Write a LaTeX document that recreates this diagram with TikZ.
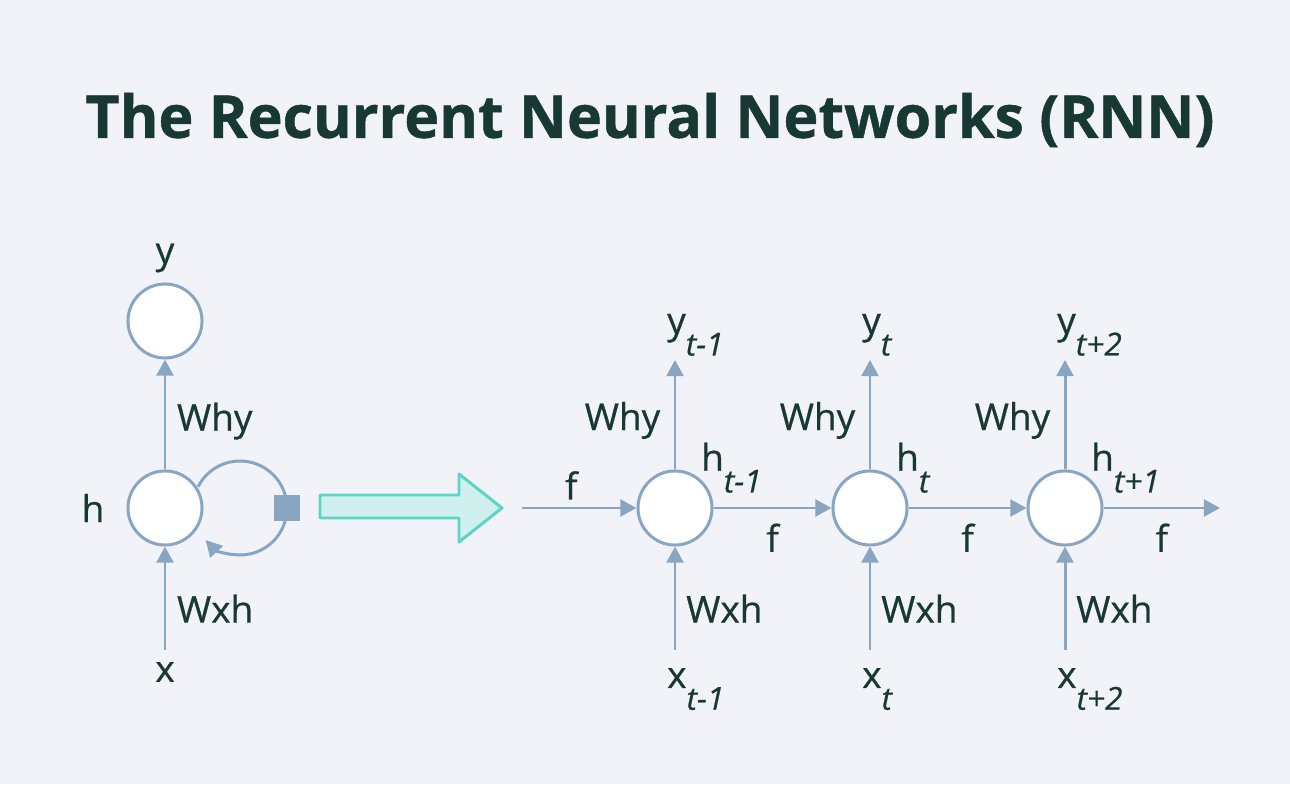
\documentclass[tikz,border=0pt]{standalone}
\usepackage{fontspec}
\setmainfont{Open Sans}
\usetikzlibrary{arrows.meta,positioning}
\definecolor{rnnBack}{RGB}{242,243,249}
\definecolor{rnnLine}{RGB}{136,165,194}
\definecolor{rnnText}{RGB}{24,56,50}
\definecolor{rnnTeal}{RGB}{92,214,194}
\definecolor{rnnTealLight}{RGB}{208,240,240}
\newcommand{\rnnsub}[2]{#1\raisebox{-1.1ex}{\fontsize{9}{10}\selectfont\itshape\addfontfeature{FakeBold=0.5}#2}}

\begin{document}
\begin{tikzpicture}[x=0.01cm, y=0.01cm,
    cell/.style={circle, draw=rnnLine, fill=white, line width=0.85pt,
                 inner sep=0pt, minimum size=0.74cm},
    arr/.style={-{Triangle[length=4.6pt, width=4.8pt]}, rnnLine, line width=0.85pt},
    lbl/.style={text=rnnText, font=\fontsize{10.5}{12}\selectfont\addfontfeature{FakeBold=0.6}, inner sep=1pt}
  ]
  \useasboundingbox[fill=rnnBack] (0,0) rectangle (1290,784);

  \node[text=rnnText, font=\fontsize{16.8}{20}\selectfont\bfseries\addfontfeature{FakeBold=0.8}] (title) at (650,664)
    {The Recurrent Neural Networks (RNN)};

  % folded network
  \node[cell] (y) at (165,463) {};
  \node[cell] (h) at (165,276) {};
  \coordinate (xin) at (165,134);
  \node[lbl] (ylab) at (165,526) {y};
  \node[lbl] (xlab) at (165,112) {x};
  \node[lbl] (hlab) at (93,276) {h};
  \draw[arr] (h) -- (y) node[lbl, pos=0.44, right=2pt] (why) {Why};
  \draw[arr] (xin) -- (h) node[lbl, pos=0.4, right=2pt] (wxh) {Wxh};
  \coordinate (loopc) at (240,276);
  \draw[arr] ([shift={(153:47)}]loopc) arc[start angle=153, end angle=-137, radius=47];
  \node[fill=rnnLine, minimum size=0.26cm, inner sep=0pt] (delay) at (287,276) {};

  % unfold arrow
  \draw[draw=rnnTeal, fill=rnnTealLight, line width=0.85pt, line join=round]
    (320,289) -- (459,289) -- (459,310) -- (502,276) -- (459,242) -- (459,266)
    -- (320,266) -- cycle;

  % unfolded network
  \coordinate (fin) at (522,276);
  \coordinate (fout) at (1220,276);
  \foreach \i/\px/\ys/\hs/\xs in {1/675/t-1/t-1/t-1, 2/870/t/t/t, 3/1065/t+2/t+1/t+2}{
    \node[cell] (h\i) at (\px,276) {};
    \coordinate (yo\i) at (\px,424);
    \coordinate (xi\i) at (\px,134);
    \draw[arr] (h\i) -- (yo\i);
    \draw[arr] (xi\i) -- (h\i);
    \node[lbl, left=3pt of h\i.north, yshift=0.49cm] (why\i) {Why};
    \node[lbl, right=2pt of h\i.south, yshift=-0.62cm] (wxh\i) {Wxh};
    \node[lbl, anchor=south west] (ylab\i) at (\px-12,424) {\rnnsub{y}{\ys}};
    \node[lbl, anchor=north west] (xlab\i) at (\px-12,120) {\rnnsub{x}{\xs}};
    \node[lbl, anchor=south west] (hlab\i) at (\px+22,287) {\rnnsub{h}{\hs}};
  }
  \draw[arr] (fin) -- (h1) node[lbl, midway, above=1pt, xshift=-0.08cm] (f0) {f};
  \draw[arr] (h1) -- (h2) node[lbl, midway, below=3pt] (f1) {f};
  \draw[arr] (h2) -- (h3) node[lbl, midway, below=3pt] (f2) {f};
  \draw[arr] (h3) -- (fout) node[lbl, midway, below=3pt] (f3) {f};
\end{tikzpicture}
\end{document}
